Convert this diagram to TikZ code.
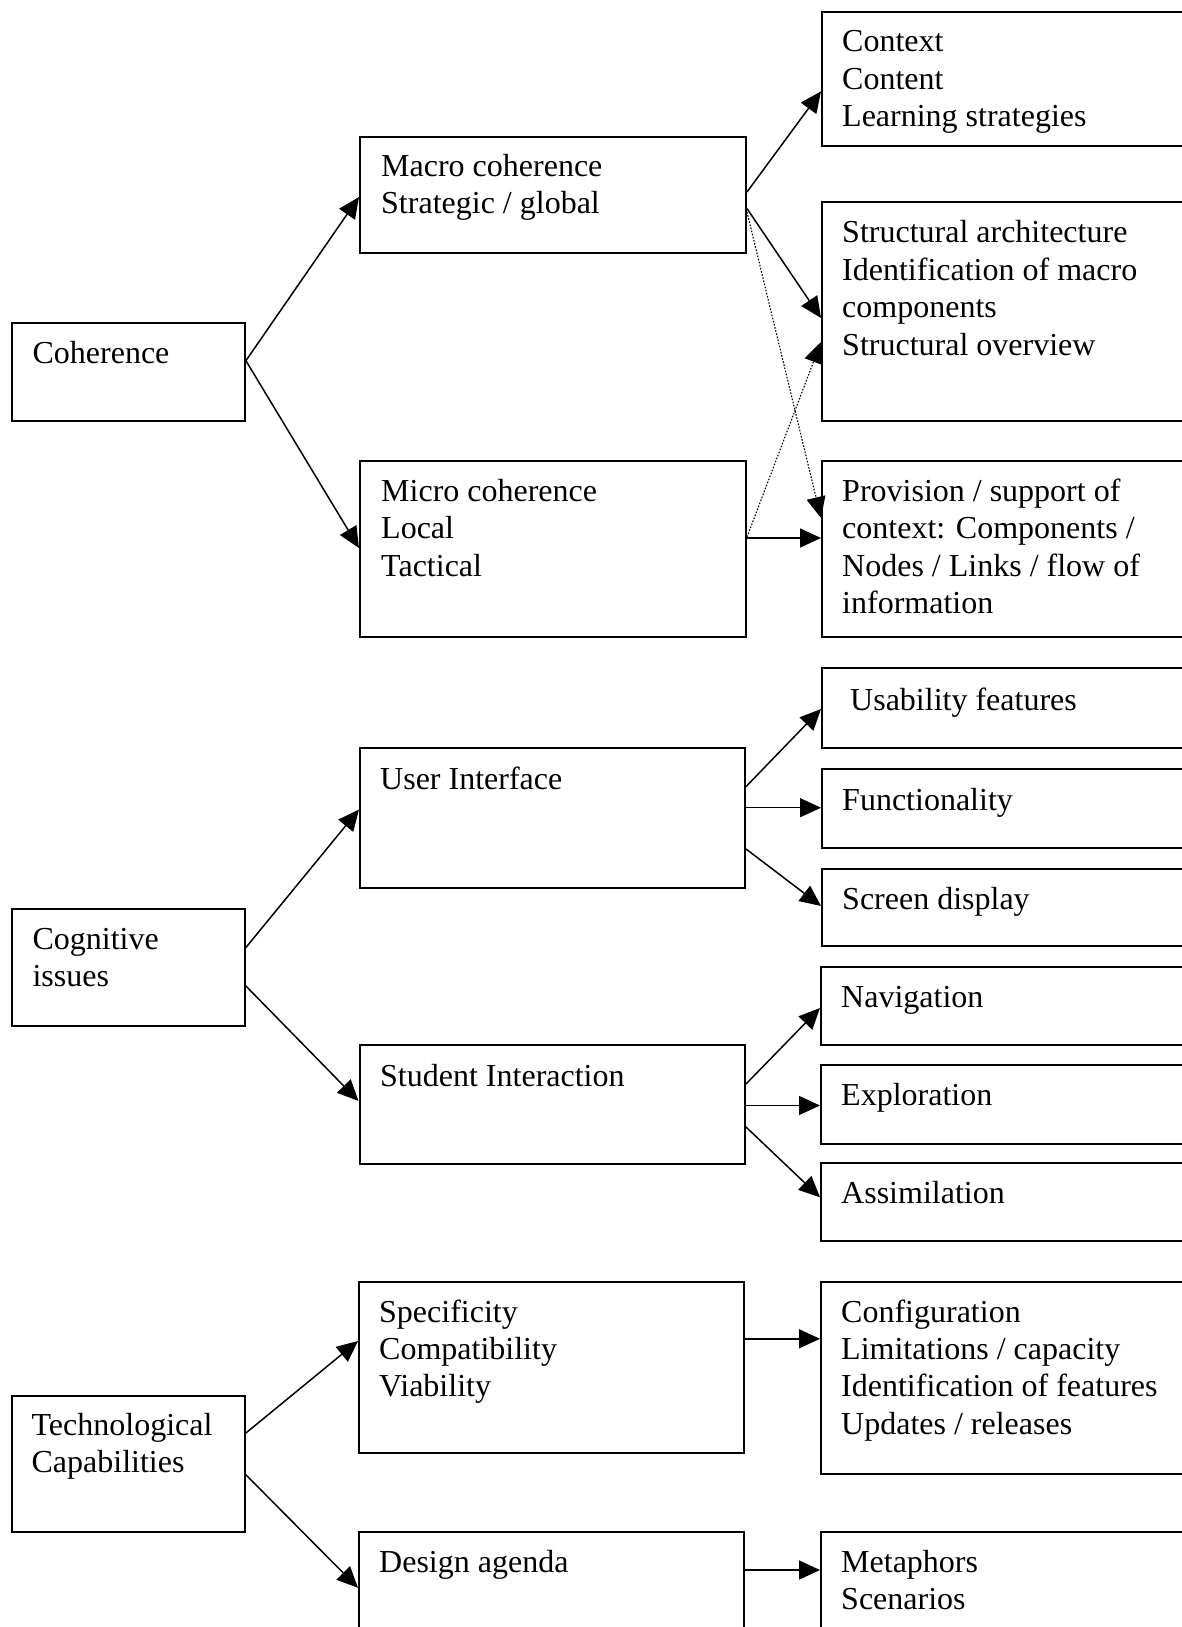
\documentclass[tikz,border=0pt]{standalone}
\usepackage{fontspec}
\setmainfont{Liberation Serif}
\usetikzlibrary{arrows.meta}

\begin{document}
\begin{tikzpicture}[x=1pt,y=-1pt,
  box/.style={draw, line width=2pt, rectangle, inner sep=0pt, anchor=north west},
  txt/.style={inner sep=0pt, anchor=base west, font=\fontsize{32}{37.4}\selectfont},
  link/.style={line width=1.5pt, -{Triangle[length=21pt,width=19pt]}},
  weak/.style={line width=1.1pt, dash pattern=on 1.6pt off 1.6pt, -{Triangle[length=21pt,width=19pt]}}
]
\useasboundingbox (0,0) rectangle (1182,1627);
\clip (0,0) rectangle (1182,1627);
\fill[white] (0,0) rectangle (1182,1627);

% a text block whose first baseline sits at the anchor
\newcommand{\lines}[1]{\parbox[t]{12cm}{\raggedright #1}}

% ---------- left column ----------
\node[box, minimum width=232.5pt, minimum height=98.6pt] (coh) at (11.4,321.7) {};
\node[box, minimum width=232.5pt, minimum height=117pt]  (cog) at (11.4,908) {};
\node[box, minimum width=232.5pt, minimum height=136pt]  (tec) at (11.4,1394.8) {};

% ---------- middle column ----------
\node[box, minimum width=386pt,   minimum height=116pt]   (mac) at (359,136) {};
\node[box, minimum width=386pt,   minimum height=176pt]   (mic) at (359,460) {};
\node[box, minimum width=385pt,   minimum height=140pt]   (ui)  at (359,747) {};
\node[box, minimum width=385.5pt, minimum height=119pt]   (si)  at (358.5,1044) {};
\node[box, minimum width=385pt,   minimum height=171.4pt] (spe) at (358,1280.6) {};
\node[box, minimum width=385pt,   minimum height=200pt]   (des) at (358,1530.8) {};

% ---------- right column (runs past the right edge) ----------
\node[box, minimum width=400pt, minimum height=134pt]   (ctx) at (821,11.4) {};
\node[box, minimum width=400pt, minimum height=219pt]   (str) at (821,201.3) {};
\node[box, minimum width=400pt, minimum height=176.5pt] (prv) at (821,459.7) {};
\node[box, minimum width=400pt, minimum height=80pt]    (usa) at (821,667.3) {};
\node[box, minimum width=400pt, minimum height=78.8pt]  (fun) at (821,768) {};
\node[box, minimum width=400pt, minimum height=77.8pt]  (scr) at (821,867.6) {};
\node[box, minimum width=400pt, minimum height=77.8pt]  (nav) at (820,966.2) {};
\node[box, minimum width=400pt, minimum height=78.9pt]  (exp) at (820,1063.7) {};
\node[box, minimum width=400pt, minimum height=78pt]    (ass) at (820,1162.3) {};
\node[box, minimum width=400pt, minimum height=192pt]   (cfg) at (820,1280.6) {};
\node[box, minimum width=400pt, minimum height=200pt]   (met) at (820,1530.8) {};

% ---------- texts ----------
\node[txt] (cohT) at ([xshift=21pt,yshift=-41.5pt]coh.north west) {\lines{Coherence}};
\node[txt] (cogT) at ([xshift=21pt,yshift=-41.5pt]cog.north west) {\lines{Cognitive\\issues}};
\node[txt] (tecT) at ([xshift=20pt,yshift=-40.5pt]tec.north west) {\lines{Technological\\Capabilities}};

\node[txt] (macT) at ([xshift=22pt,yshift=-40.5pt]mac.north west) {\lines{Macro coherence\\Strategic / global}};
\node[txt] (micT) at ([xshift=22pt,yshift=-41.5pt]mic.north west) {\lines{Micro coherence\\Local\\Tactical}};
\node[txt] (uiT)  at ([xshift=21pt,yshift=-42.5pt]ui.north west)  {\lines{User Interface}};
\node[txt] (siT)  at ([xshift=21.5pt,yshift=-42.5pt]si.north west) {\lines{Student Interaction}};
\node[txt] (speT) at ([xshift=21pt,yshift=-41.5pt]spe.north west) {\lines{Specificity\\Compatibility\\Viability}};
\node[txt] (desT) at ([xshift=21pt,yshift=-41.5pt]des.north west) {\lines{Design agenda}};

\node[txt] (ctxT) at ([xshift=21pt,yshift=-40.5pt]ctx.north west) {\lines{Context\\Content\\Learning strategies}};
\node[txt] (strT) at ([xshift=21pt,yshift=-41.5pt]str.north west) {\lines{Structural architecture\\Identification of macro\\components\\Structural overview}};
\node[txt] (prvT) at ([xshift=21pt,yshift=-41.5pt]prv.north west) {\lines{Provision / support of\\context: Components /\\Nodes / Links / flow of\\information}};
\node[txt] (usaT) at ([xshift=29pt,yshift=-43pt]usa.north west)   {\lines{Usability features}};
\node[txt] (funT) at ([xshift=21pt,yshift=-42.5pt]fun.north west) {\lines{Functionality}};
\node[txt] (scrT) at ([xshift=21pt,yshift=-42pt]scr.north west)   {\lines{Screen display}};
\node[txt] (navT) at ([xshift=21pt,yshift=-41.5pt]nav.north west) {\lines{Navigation}};
\node[txt] (expT) at ([xshift=21pt,yshift=-41.5pt]exp.north west) {\lines{Exploration}};
\node[txt] (assT) at ([xshift=21pt,yshift=-41.5pt]ass.north west) {\lines{Assimilation}};
\node[txt] (cfgT) at ([xshift=21pt,yshift=-41.5pt]cfg.north west) {\lines{Configuration\\Limitations / capacity\\Identification of features\\Updates / releases}};
\node[txt] (metT) at ([xshift=21pt,yshift=-41.5pt]met.north west) {\lines{Metaphors\\Scenarios}};

% ---------- connectors: coherence ----------
\draw[link] ([yshift=-39pt]coh.north east) -- ([yshift=-61pt]mac.north west);
\draw[link] ([yshift=-39pt]coh.north east) -- ([yshift=-88pt]mic.north west);
\draw[link] ([yshift=-56pt]mac.north east) -- ([yshift=-80pt]ctx.north west);
\draw[link] ([yshift=-72.6pt]mac.north east) -- ([yshift=-116.7pt]str.north west);
\draw[weak] ([yshift=-76pt]mac.north east) -- ([yshift=-58.3pt]prv.north west);
\draw[weak] ([yshift=-77pt]mic.north east) -- ([yshift=-140.7pt]str.north west);
\draw[link] ([yshift=-78pt]mic.north east) -- ([yshift=-78.3pt]prv.north west);

% ---------- connectors: cognitive issues ----------
\draw[link] ([yshift=-39.5pt]cog.north east) -- ([yshift=-62.5pt]ui.north west);
\draw[link] ([yshift=-78pt]cog.north east) -- ([yshift=-57pt]si.north west);
\draw[link] ([yshift=-39.6pt]ui.north east) -- ([yshift=-41.7pt]usa.north west);
\draw[link] ([yshift=-60.7pt]ui.north east) -- ([yshift=-39.7pt]fun.north west);
\draw[link] ([yshift=-102pt]ui.north east) -- ([yshift=-38.4pt]scr.north west);
\draw[link] ([yshift=-40pt]si.north east) -- ([yshift=-41.8pt]nav.north west);
\draw[link] ([yshift=-61.5pt]si.north east) -- ([yshift=-41.8pt]exp.north west);
\draw[link] ([yshift=-83pt]si.north east) -- ([yshift=-35pt]ass.north west);

% ---------- connectors: technological capabilities ----------
\draw[link] ([yshift=-38.2pt]tec.north east) -- ([yshift=-60.4pt]spe.north west);
\draw[link] ([yshift=-80pt]tec.north east) -- ([yshift=-57pt]des.north west);
\draw[link] ([yshift=-58.2pt]spe.north east) -- ([yshift=-58.2pt]cfg.north west);
\draw[link] ([yshift=-39.2pt]des.north east) -- ([yshift=-39.2pt]met.north west);
\end{tikzpicture}
\end{document}
